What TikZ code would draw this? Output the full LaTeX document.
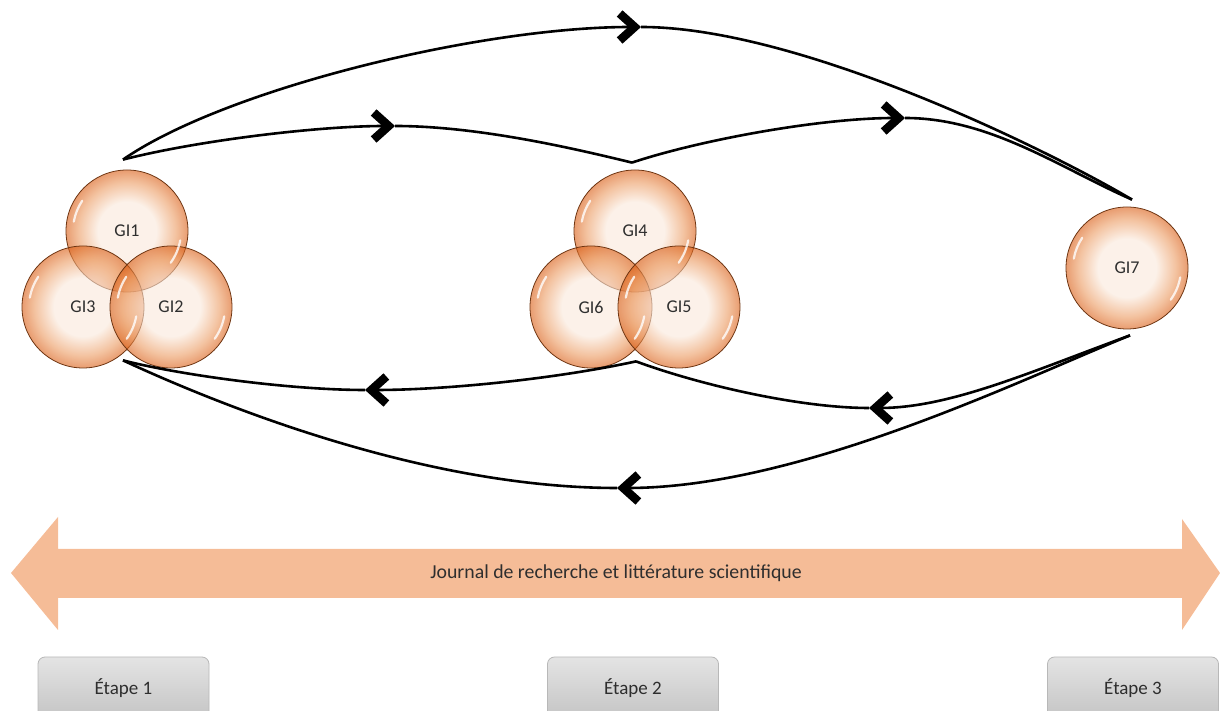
\documentclass[tikz,border=0pt]{standalone}
\usepackage{fontspec}
\setmainfont{Carlito}
\usetikzlibrary{arrows.meta,calc}

\definecolor{orbC}{HTML}{FAE8DA}
\definecolor{orbM}{HTML}{EB995F}
\definecolor{orbE}{HTML}{D95A10}
\definecolor{orbRim}{HTML}{6E3512}
\definecolor{peach}{HTML}{F5BC97}
\definecolor{labelgray}{HTML}{2E2E2E}
\definecolor{boxTop}{HTML}{E4E4E4}
\definecolor{boxBot}{HTML}{C4C4C4}
\definecolor{boxLine}{HTML}{B8B8B8}

% light centre fading to an orange rim (25bp is the edge of the shaded path)
\pgfdeclareradialshading{orb}{\pgfpoint{0bp}{0bp}}{%
  color(0bp)=(orbC); color(12bp)=(orbC); color(20bp)=(orbM);
  color(25bp)=(orbE); color(50bp)=(orbE)}

\tikzset{
  orb/.style={circle, minimum size=122pt, inner sep=0pt, shading=orb,
    fill opacity=0.6, text opacity=1,
    draw=orbRim, line width=0.8pt, text=labelgray,
    font=\fontsize{18}{20}\selectfont},
  gloss/.style={white, line width=2.2pt, line cap=round, opacity=0.8},
  link/.style={line width=2.6pt},
  chev/.style={-{Straight Barb[length=15pt,width=27pt,line width=8.5pt,sharp]}},
  stepbox/.style={rectangle, rounded corners=7pt, minimum width=171pt,
    minimum height=62pt, top color=boxTop, bottom color=boxBot,
    draw=boxLine, line width=0.8pt, text=labelgray,
    font=\fontsize{19}{22}\selectfont},
}

\newcommand{\orbgloss}[1]{%
  \draw[gloss] ($(#1)+(146:54)$) arc[start angle=146, end angle=170, radius=54];
  \draw[gloss] ($(#1)+(-36:54)$) arc[start angle=-36, end angle=-10, radius=54];
}

\begin{document}
\begin{tikzpicture}[x=1pt,y=1pt]
\useasboundingbox (0,0) rectangle (1220,711);
\clip (0,0) rectangle (1220,711);

% research groups
\node[orb] (gi1) at (127,480) {GI1};
\node[orb] (gi3) at (83,404) {GI3};
\node[orb] (gi2) at (171,404) {GI2};
\node[orb] (gi4) at (635,480) {GI4};
\node[orb] (gi6) at (591,404) {GI6};
\node[orb] (gi5) at (679,404) {GI5};
\node[orb] (gi7) at (1127,443) {GI7};
\foreach \g in {gi1,gi2,gi3,gi4,gi5,gi6,gi7} {\orbgloss{\g}}

% where the exchanges leave and reach each group
\coordinate (a)  at ($(gi1.north)+(-4,10)$);
\coordinate (m)  at ($(gi4.north)+(-3,7)$);
\coordinate (r)  at ($(gi7.north)+(5,7)$);
\coordinate (rb) at ($(gi7.south)+(3,-6)$);
\coordinate (mb) at ($(gi6.south)!0.5!(gi5.south)+(1,7)$);
\coordinate (ab) at ($(gi3.south)!0.5!(gi2.south)+(-4,8)$);

% arrow points along each exchange
\coordinate (t1) at (641,684);
\coordinate (t2) at (395,585);
\coordinate (t3) at (905,593);
\coordinate (t4) at (365,321);
\coordinate (t5) at (869,303);
\coordinate (t6) at (617,223);

% forward exchanges
\draw[link, chev] (a) .. controls (225,622) and (480,684) .. (t1);
\draw[link] (t1) .. controls (800,684) and (1050,560) .. (r);
\draw[link, chev] (a) .. controls (200,571) and (320,585) .. (t2);
\draw[link] (t2) .. controls (480,585) and (580,561) .. (m);
\draw[link, chev] (m) .. controls (700,571) and (820,593) .. (t3);
\draw[link] (t3) .. controls (990,593) and (1060,543) .. (r);

% feedback
\draw[link, chev] (rb) .. controls (1030,339) and (950,303) .. (t5);
\draw[link] (t5) .. controls (800,303) and (700,326) .. (mb);
\draw[link, chev] (mb) .. controls (560,333) and (450,321) .. (t4);
\draw[link] (t4) .. controls (290,321) and (180,336) .. (ab);
\draw[link, chev] (rb) .. controls (1020,331) and (800,223) .. (t6);
\draw[link] (t6) .. controls (430,223) and (230,301) .. (ab);

% timeline band
\fill[peach] (11,138) -- (58,194) -- (58,162) -- (1182,162) -- (1182,192)
  -- (1220,138) -- (1182,81) -- (1182,113) -- (58,113) -- (58,81) -- cycle;
\node[text=labelgray, font=\fontsize{19.8}{22}\selectfont] (journal) at (616,138)
  {Journal de recherche et littérature scientifique};

% stages
\node[stepbox] (s1) at (123.5,23) {Étape 1};
\node[stepbox] (s2) at (633,23) {Étape 2};
\node[stepbox] (s3) at (1133,23) {Étape 3};
\end{tikzpicture}
\end{document}
